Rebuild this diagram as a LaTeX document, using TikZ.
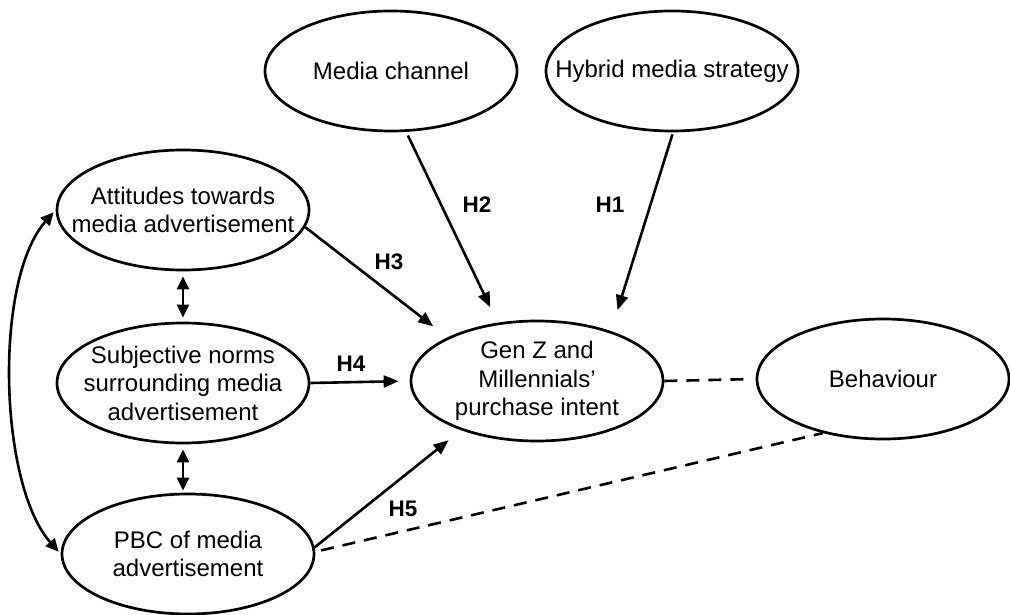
\documentclass[tikz,border=0pt]{standalone}
\usepackage{fontspec}
\setmainfont{Liberation Sans}
\usetikzlibrary{shapes.geometric,arrows.meta}
\begin{document}
\begin{tikzpicture}[x=1pt,y=-1pt,
  ent/.style={ellipse,draw,line width=2.7pt,minimum width=252pt,minimum height=120pt,inner sep=0pt},
  txt/.style={align=center,font=\fontsize{24}{28.5}\selectfont,inner sep=0pt},
  hyp/.style={font=\fontsize{22.5}{24}\selectfont\bfseries,inner sep=0pt},
  link/.style={line width=2.6pt,-{Triangle[length=15pt,width=12pt]}},
  both/.style={line width=2.6pt,{Triangle[length=13pt,width=12pt]}-{Triangle[length=13pt,width=12pt]}},
  assoc/.style={line width=2.6pt,dash pattern=on 13pt off 9pt}]
\useasboundingbox (0,0) rectangle (1010,615);

% constructs
\node[ent,label={[txt]center:Media channel}] (mc) at (391,71) {};
\node[ent,label={[txt]center:Hybrid media strategy}] (hy) at (672,71) {};
\node[ent,label={[txt]center:{Attitudes towards\\media advertisement}}] (att) at (183,210) {};
\node[ent,label={[txt]center:{Subjective norms\\surrounding media\\advertisement}}] (sub) at (183,383) {};
\node[ent,label={[txt]center:{PBC of media\\advertisement}}] (pbc) at (188,554) {};
\node[ent,label={[txt]center:{Gen Z and\\Millennials’\\purchase intent}}] (gz) at (537,381) {};
\node[ent,label={[txt]center:Behaviour}] (beh) at (883,379) {};

% hypothesised paths
\draw[link,shorten <=4pt,shorten >=17pt] (mc.-76) -- (gz.124);
\draw[link,shorten <=2pt,shorten >=22pt] (hy.-89) -- (gz.34);
\draw[link,shorten >=18pt] (att.-8) -- (gz.154);
\draw[link,shorten >=11pt] (sub.east) -- (gz.west);
\draw[link,shorten >=16pt] (pbc.3) -- (gz.-147);

% hypothesis labels
\node[hyp] (h1) at (610,205) {H1};
\node[hyp] (h2) at (477,205) {H2};
\node[hyp] (h3) at (389,262) {H3};
\node[hyp] (h4) at (351,364) {H4};
\node[hyp] (h5) at (403,509) {H5};

% correlations among the TPB constructs
\draw[both,shorten <=5pt,shorten >=4pt] (att.south) -- (sub.north);
\draw[both,shorten <=5pt,shorten >=2pt] (sub.south) -- (sub.south |- pbc.north);
\draw[both,shorten <=3pt,shorten >=3pt] (att.west) .. controls +(-62,70) and +(-62,-70) .. (pbc.west);

% links to behaviour
\draw[assoc,shorten >=11pt] (gz.east) -- (beh.west);
\draw[assoc,shorten <=6pt] (pbc.1) -- (beh.-138);
\end{tikzpicture}
\end{document}
